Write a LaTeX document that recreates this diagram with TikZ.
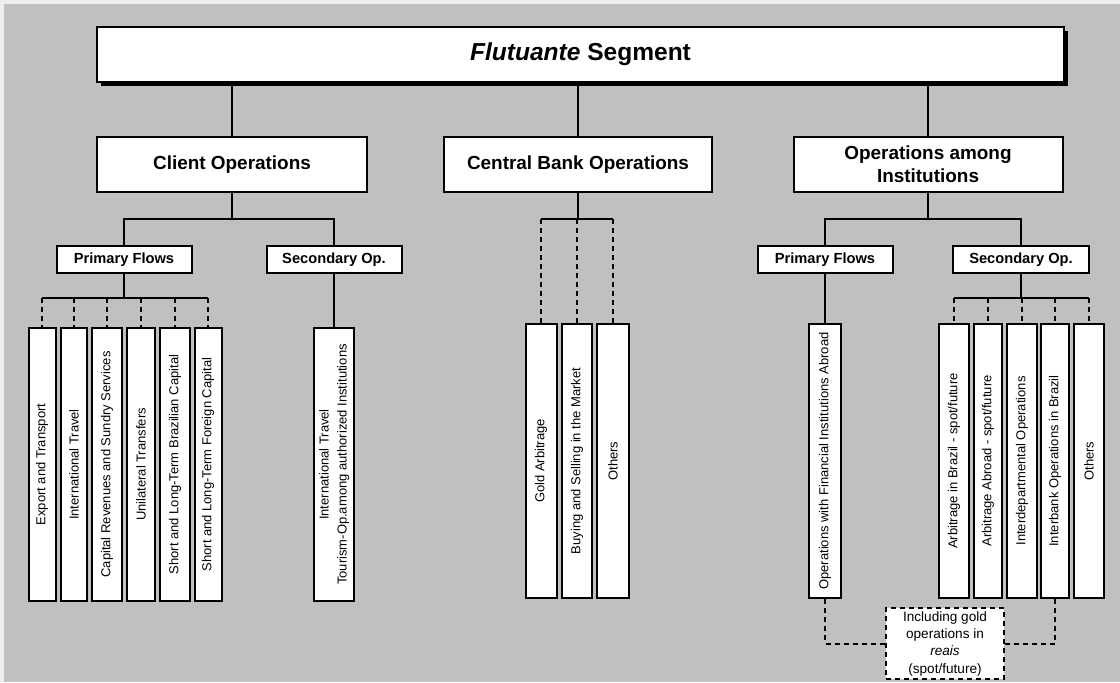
\documentclass[tikz,border=0pt]{standalone}
\usepackage{fontspec}
\setmainfont{Liberation Sans}
\usepackage{graphicx}
\usepackage{xcolor}
\definecolor{PanelGray}{HTML}{C0C0C0}
\definecolor{EdgeGray}{HTML}{EEEEEE}
\usetikzlibrary{positioning,shadows}

\begin{document}
\begin{tikzpicture}[x=0.75pt,y=-0.75pt,
 head/.style={draw,fill=white,line width=1.5pt,minimum width={967*0.75pt},minimum height={55*0.75pt},
   font=\fontsize{18.4}{22}\selectfont\bfseries,
   drop shadow={shadow xshift=3pt,shadow yshift=-3pt,fill=black,opacity=1}},
 grp/.style={draw,fill=white,line width=1.5pt,minimum height={55*0.75pt},align=center,
   font=\fontsize{14.2}{17.5}\selectfont\bfseries},
 flow/.style={draw,fill=white,line width=1.5pt,minimum width={135*0.75pt},minimum height={27*0.75pt},
   inner sep=0pt,font=\fontsize{11}{13}\selectfont\bfseries},
 item/.style={draw,fill=white,line width=1.5pt,inner sep=0pt,font=\fontsize{9.75}{13.5}\selectfont},
 note/.style={draw,fill=white,line width=1.4pt,dash pattern=on 3.75pt off 3pt,inner sep=0pt,
   minimum width={118*0.75pt},minimum height={71*0.75pt},align=center,font=\fontsize{10.2}{13}\selectfont},
 link/.style={line width=1.5pt},
 dlink/.style={line width=1.5pt,dash pattern=on 3.75pt off 3pt}]
\useasboundingbox (0,0) rectangle (1120,682);
\fill[EdgeGray] (0,0) rectangle (1120,682);
\fill[PanelGray] (4,4) rectangle (1120,682);

\node[head] (top) at (580.5,54.5) {\textit{Flutuante} Segment};
\node[grp,minimum width={270*0.75pt}] (client) at (232,164.5) {Client Operations};
\node[grp,minimum width={268*0.75pt}] (central) at (578,164.5) {Central Bank Operations};
\node[grp,minimum width={269*0.75pt}] (inst) at (928,164.5) {Operations among\\Institutions};

\node[flow] (cpf) at (124,259.5) {Primary Flows};
\node[flow] (csf) at (334,259.5) {Secondary Op.};
\node[flow] (ipf) at (825,259.5) {Primary Flows};
\node[flow,minimum width={136*0.75pt}] (isf) at (1021,259.5) {Secondary Op.};

\foreach \n/\cx/\w/\txt in {exp/42/27/{Export and Transport},
  trav/74/26/{International Travel},
  caprev/107/30/{Capital Revenues and Sundry Services},
  unil/141/28/{Unilateral Transfers},
  brcap/175/30/{Short and Long-Term Brazilian Capital},
  frcap/208/27/{Short and Long-Term Foreign Capital}}
  \node[item,minimum width={\w*0.75pt},minimum height={273*0.75pt}] (\n) at (\cx,464.5) {\rotatebox{90}{\txt}};
\node[item,minimum width={40*0.75pt},minimum height={273*0.75pt}] (tour) at (334,464.5)
  {\rotatebox{90}{\begin{tabular}{@{}c@{}}International Travel\\Tourism-Op.among authorized Institutions\end{tabular}}};

\foreach \n/\cx/\w/\txt in {gold/541/31/{Gold Arbitrage},
  buy/577/30/{Buying and Selling in the Market},
  kothers/613/32/{Others}}
  \node[item,minimum width={\w*0.75pt},minimum height={274*0.75pt}] (\n) at (\cx,461) {\rotatebox{90}{\txt}};

\node[item,minimum width={32*0.75pt},minimum height={274*0.75pt}] (abroad) at (825,461)
  {\rotatebox{90}{Operations with Financial Institutions Abroad}};
\foreach \n/\cx/\w/\txt in {arbr/954/30/{Arbitrage in Brazil - spot/future},
  arab/988/28/{Arbitrage Abroad - spot/future},
  idep/1022/30/{Interdepartmental Operations},
  ibank/1055/28/{Interbank Operations in Brazil},
  iothers/1089/30/{Others}}
  \node[item,minimum width={\w*0.75pt},minimum height={274*0.75pt}] (\n) at (\cx,461) {\rotatebox{90}{\txt}};

\node[note] (gnote) at (945,643.5) {Including gold\\operations in\\\textit{reais}\\(spot/future)};

\foreach \c in {client,central,inst}
  \draw[link] (top.south -| \c.north) -- (\c.north);

\path (client.south) ++(0,26) coordinate (cbar);
\draw[link] (client.south) -- (cbar);
\draw[link] (cpf.north) |- (cbar) -| (csf.north);
\path (inst.south) ++(0,26) coordinate (ibar);
\draw[link] (inst.south) -- (ibar);
\draw[link] (ipf.north) |- (ibar) -| (isf.north);

\path (central.south) ++(0,26) coordinate (kbar);
\draw[link] (central.south) -- (kbar);
\draw[link] (gold.north |- kbar) -- (kothers.north |- kbar);
\foreach \b in {gold,buy,kothers}
  \draw[dlink] (\b.north |- kbar) -- (\b.north);

\path (cpf.south) ++(0,24) coordinate (pbar);
\draw[link] (cpf.south) -- (pbar);
\draw[link] (exp.north |- pbar) -- (frcap.north |- pbar);
\foreach \b in {exp,trav,caprev,unil,brcap,frcap}
  \draw[dlink] (\b.north |- pbar) -- (\b.north);
\draw[link] (tour.north |- csf.south) -- (tour.north);

\draw[link] (abroad.north |- ipf.south) -- (abroad.north);
\path (isf.south) ++(0,24) coordinate (sbar);
\draw[link] (isf.south) -- (sbar);
\draw[link] (arbr.north |- sbar) -- (iothers.north |- sbar);
\foreach \b in {arbr,arab,idep,ibank,iothers}
  \draw[dlink] (\b.north |- sbar) -- (\b.north);

\draw[dlink] (abroad.south) |- (gnote.west);
\draw[dlink] (ibank.south) |- (gnote.east);
\end{tikzpicture}
\end{document}
